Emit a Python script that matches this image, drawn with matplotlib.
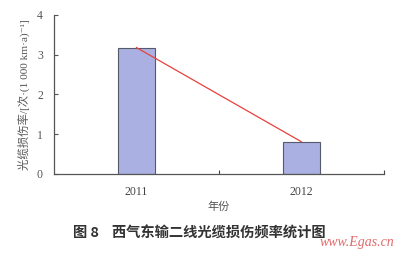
import matplotlib.pyplot as plt

plt.rcParams['font.family'] = ['Liberation Serif', 'Noto Sans CJK SC', 'DejaVu Sans']

years = ['2011', '2012']
damage_rate = [3.18, 0.81]

fig = plt.figure(figsize=(4.0, 2.54), dpi=100)
ax = fig.add_axes([0.135, 0.315, 0.825, 0.626])

x = list(range(len(years)))
ax.bar(x, damage_rate, width=0.23, color='#aab1e2', edgecolor='#55596a', linewidth=0.8, zorder=2)
ax.plot(x, damage_rate, color='#e8413c', lw=0.9, zorder=3)

ax.set_xlim(-0.5, 1.5)
ax.set_ylim(0, 4)
ax.set_yticks([0, 1, 2, 3, 4])
ax.set_xticks([0.5, 1.5])
ax.set_xticklabels([])
ax.set_xticks(x, minor=True)
ax.set_xticklabels(years, minor=True)
ax.tick_params(axis='x', which='minor', length=0, pad=9, labelsize=8.5, colors='#444444')
ax.tick_params(axis='x', which='major', direction='in', length=3, color='#444444')
ax.tick_params(axis='y', direction='in', length=3, pad=8, labelsize=8.5, colors='#555555')
for side in ['top', 'right']:
    ax.spines[side].set_visible(False)
for side in ['left', 'bottom']:
    ax.spines[side].set_color('#555555')
    ax.spines[side].set_linewidth(0.9)

ax.set_xlabel('年份', fontsize=8, color='#555555', labelpad=2)
ax.set_ylabel('光缆损伤率/[次·(1 000 km·a)⁻¹]', fontsize=8.2, color='#555555', labelpad=5)

fig.text(0.183, 0.063, '图 8    西气东输二线光缆损伤频率统计图', fontsize=10.3, fontweight='bold',
         color='#333333', family=['Noto Sans CJK SC', 'DejaVu Sans'])
fig.text(0.985, 0.03, 'www.Egas.cn', fontsize=10, style='italic', color='#e06a6a',
         ha='right', family='Liberation Serif')

fig.savefig('out.png', dpi=100)
